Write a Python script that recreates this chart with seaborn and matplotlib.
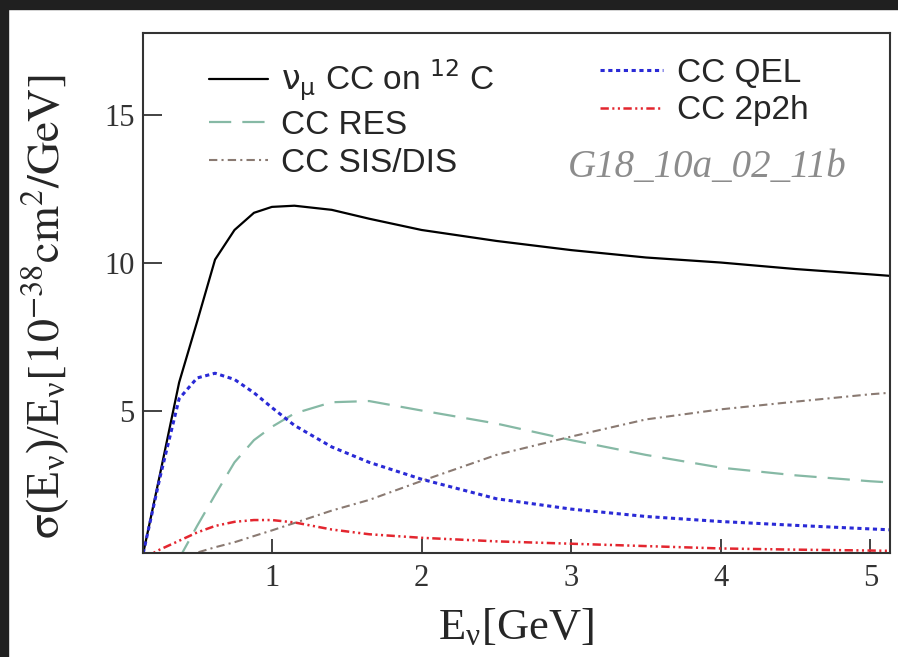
import numpy as np
import pandas as pd
import matplotlib
matplotlib.use("Agg")
import matplotlib.pyplot as plt
import seaborn as sns
from matplotlib.font_manager import FontProperties
from matplotlib.patches import Rectangle

# ─────────────────────────────────────────────
# Data
# ─────────────────────────────────────────────
energy = [0.14, 0.25, 0.38, 0.5, 0.62, 0.75, 0.88, 1.0, 1.15, 1.4, 1.65,
          2.0, 2.5, 3.0, 3.5, 4.0, 4.5, 5.0, 5.13]

total   = [0.18, 2.8, 5.95, 8.0, 10.1, 11.1, 11.68, 11.88, 11.92, 11.78, 11.48,
           11.1, 10.73, 10.42, 10.17, 10.0, 9.78, 9.6, 9.55]
qel     = [0.18, 2.7, 5.4, 6.1, 6.26, 6.05, 5.6, 5.1, 4.5, 3.77, 3.25,
           2.68, 2.02, 1.67, 1.42, 1.25, 1.12, 1.0, 0.97]
res     = [0.0, 0.0, 0.0, 1.1, 2.15, 3.25, 4.0, 4.45, 4.9, 5.28, 5.32,
           5.0, 4.56, 4.0, 3.5, 3.07, 2.81, 2.61, 2.57]
sis_dis = [0.0, 0.0, 0.0, 0.2, 0.38, 0.55, 0.76, 0.95, 1.2, 1.62, 1.98,
           2.62, 3.5, 4.12, 4.7, 5.04, 5.3, 5.55, 5.6]
twop2h  = [0.0, 0.3, 0.6, 0.88, 1.1, 1.24, 1.3, 1.3, 1.22, 0.98, 0.82,
           0.7, 0.58, 0.5, 0.42, 0.34, 0.3, 0.27, 0.26]

x_ticks = [1, 2, 3, 4, 5]
y_ticks = [5, 10, 15]

# ─────────────────────────────────────────────
# Styling
# ─────────────────────────────────────────────
sns.set_theme(style="ticks")
plt.rcParams["font.family"] = ["Liberation Serif", "DejaVu Serif"]
plt.rcParams["mathtext.fontset"] = "stix"
plt.rcParams["lines.scale_dashes"] = False

SANS = FontProperties(family="Liberation Sans", size=24, math_fontfamily="dejavusans")

series = [
    # label, values, color, linewidth, linestyle
    (r"$\mathrm{\nu}_{\mathrm{\mu}}$ CC on $^{12}$ C", total, "#000000", 1.6, "-"),
    ("CC RES", res, "#86b9a5", 1.6, (0, (16, 8))),
    ("CC SIS/DIS", sis_dis, "#8a7a72", 1.5, (0, (6, 3, 1.5, 3))),
    ("CC QEL", qel, "#2a2ad6", 2.2, (0, (3, 2.6))),
    ("CC 2p2h", twop2h, "#e3262f", 1.8, (0, (6, 2.5, 1.5, 2.5, 1.5, 2.5))),
]

fig = plt.figure(figsize=(8.98, 6.57), dpi=100)
ax = fig.add_axes([0.159, 0.158, 0.832, 0.792])

handles = []
for label, vals, color, lw, ls in series:
    df = pd.DataFrame({"E": energy, "xs": vals})
    sns.lineplot(data=df, x="E", y="xs", ax=ax, color=color, lw=lw,
                 linestyle=ls, sort=False, estimator=None, label=label,
                 legend=False)
    handles.append(ax.lines[-1])

ax.set_xlim(0.137, 5.13)
ax.set_ylim(0.18, 17.76)
ax.set_xticks(x_ticks)
ax.set_yticks(y_ticks)
ax.tick_params(axis="both", direction="in", width=1.2, color="#222222",
               labelsize=22, labelcolor="#333333")
ax.tick_params(axis="y", length=14, pad=6)
ax.tick_params(axis="x", length=10, pad=8)
for sp in ax.spines.values():
    sp.set_linewidth(1.5)
    sp.set_color("#333333")

ax.set_xlabel(r"E$_\mathregular{\nu}$[GeV]", fontsize=32, labelpad=10)
ax.set_ylabel(r"$\mathrm{\sigma}$(E$_\mathregular{\nu}$)/E$_\mathregular{\nu}$"
              r"$\left[10^{-38}\mathrm{cm}^{2}\mathrm{/GeV}\right]$",
              fontsize=33)
ax.yaxis.set_label_coords(-0.095, 0.473)

# legends: two columns placed by hand
leg_kw = dict(loc="upper left", bbox_transform=fig.transFigure, frameon=False,
              prop=SANS, handletextpad=0.4, labelspacing=0.2,
              borderaxespad=0, borderpad=0)
leg1 = ax.legend(handles=handles[:3], labels=[s[0] for s in series[:3]],
                 bbox_to_anchor=(0.233, 0.912), handlelength=1.75, **leg_kw)
ax.add_artist(leg1)
ax.legend(handles=handles[3:], labels=[s[0] for s in series[3:]],
          bbox_to_anchor=(0.668, 0.912), handlelength=1.9, **leg_kw)

fig.text(0.632, 0.745, "G18_10a_02_11b", fontsize=28, style="italic",
         color="#8c8c8c", va="center", ha="left")

# dark screenshot border (top and left)
fig.patches.append(Rectangle((0, 1 - 9 / 657), 1, 9 / 657, transform=fig.transFigure,
                             color="#202020", zorder=10))
fig.patches.append(Rectangle((0, 0), 8 / 898, 1, transform=fig.transFigure,
                             color="#202020", zorder=10))

fig.savefig("out.png", dpi=100)
